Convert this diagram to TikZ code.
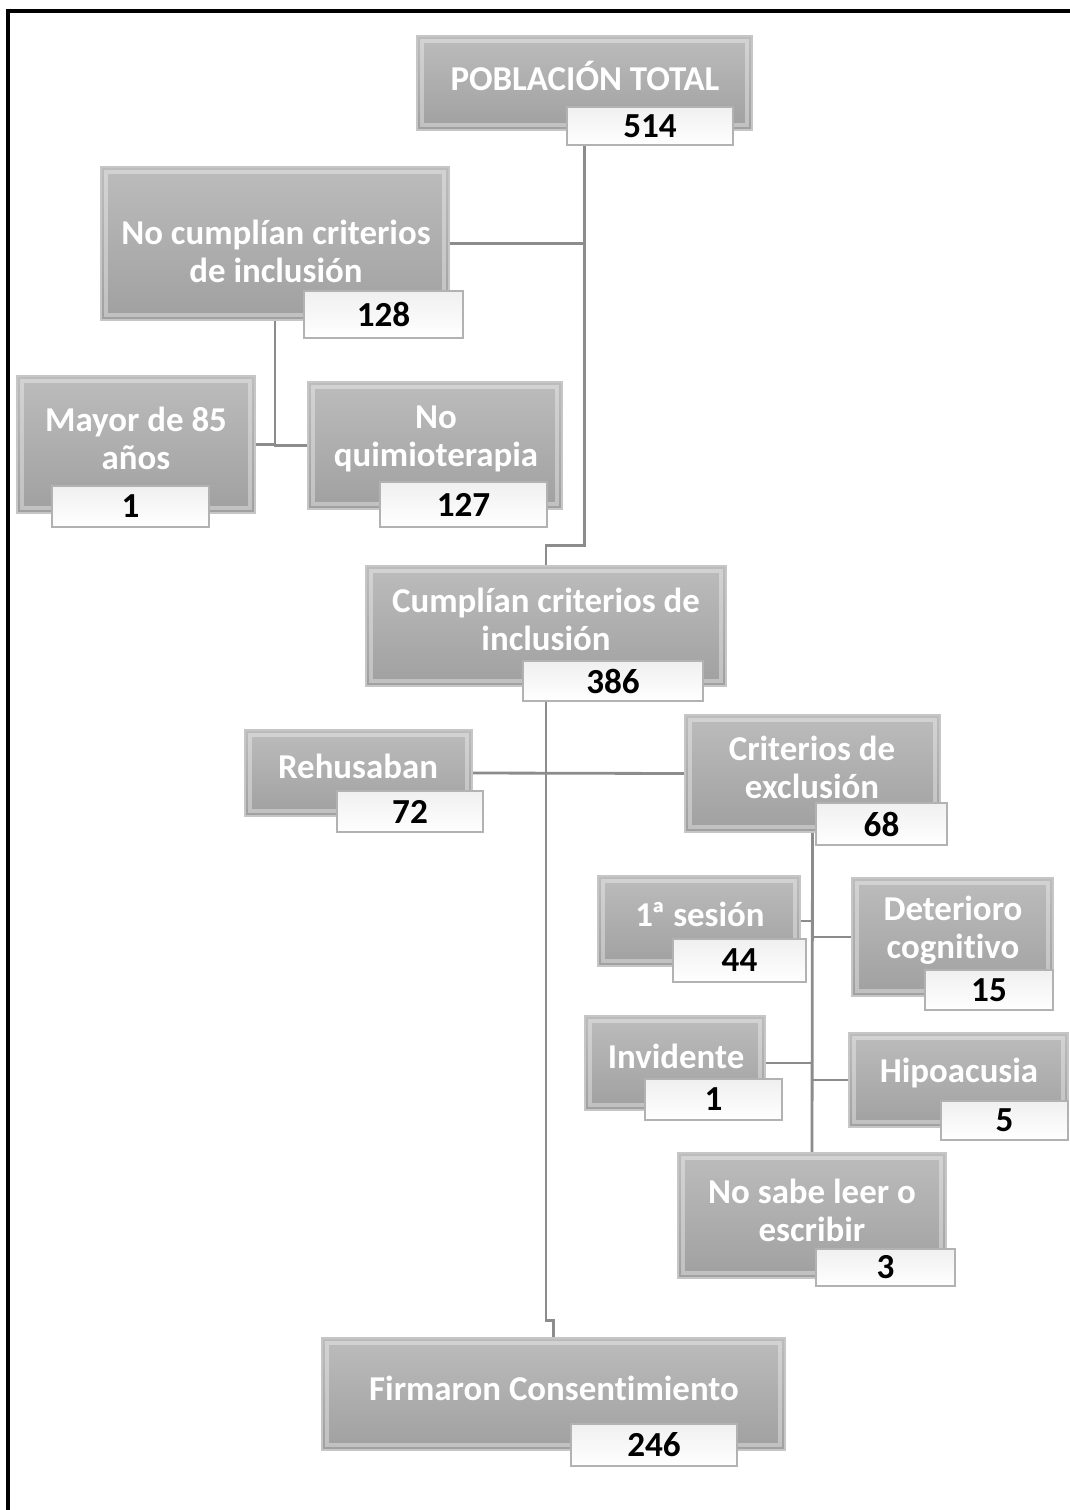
\documentclass[tikz,border=0pt]{standalone}
\usepackage{fontspec}
\setmainfont{Carlito}[Ligatures=NoCommon]
\usetikzlibrary{fit,backgrounds}
\definecolor{cajaclara}{RGB}{188,188,188}
\definecolor{cajaoscura}{RGB}{160,160,160}
\definecolor{gris}{RGB}{140,140,140}
\def\u{0.025cm}
\tikzset{
  caja/.style={inner sep=0pt, top color=cajaclara, bottom color=cajaoscura, draw=gray!45, line width=0.8pt,
    path picture={\draw[white, opacity=0.35, line width=2.5pt]
      ([shift={(3.5pt,-3.5pt)}]path picture bounding box.north west) rectangle
      ([shift={(-3.5pt,3.5pt)}]path picture bounding box.south east);}},
  numero/.style={inner sep=0pt, top color=gray!12, bottom color=white, draw=gray!60, line width=1pt,
    font=\fontsize{25}{27}\selectfont\bfseries, text=black},
  texto/.style={align=center, text=white, inner sep=0pt, font=\fontsize{24.8}{27}\selectfont\bfseries},
  conector/.style={draw=gris, line width=2pt}
}

\begin{document}
\begin{tikzpicture}[x=\u, y=-\u]
    \useasboundingbox (0,0) rectangle (1070,1510);
    \draw[line width=2.2pt] (8,1512) -- (8,11) -- (1072,11);
    % cajas grises
    \node[caja, fit={(417,36) (752,130)}] (total) {};
    \node[caja, fit={(101,167) (449,320)}] (nocumplen) {};
    \node[caja, fit={(17,376) (255,513)}] (mayor) {};
    \node[caja, fit={(308,382) (562,509)}] (quimio) {};
    \node[caja, fit={(366,566) (726,686)}] (cumplen) {};
    \node[caja, fit={(245,730) (472,816)}] (rehusan) {};
    \node[caja, fit={(685,715) (940,832)}] (exclusion) {};
    \node[caja, fit={(598,876) (800,966)}] (sesion) {};
    \node[caja, fit={(852,878) (1053,996)}] (deterioro) {};
    \node[caja, fit={(585,1016) (765,1110)}] (invidente) {};
    \node[caja, fit={(849,1033) (1068,1127)}] (hipoacusia) {};
    \node[caja, fit={(678,1153) (946,1278)}] (nosabe) {};
    \node[caja, fit={(322,1338) (785,1450)}] (firmaron) {};
    % textos
    \node[texto] (totalT) at (585,76) {POBLACIÓN TOTAL};
    \node[texto] (nocumplenT) at (276,251) {No cumplían criterios\\de inclusión};
    \node[texto] (mayorT) at (136,438) {Mayor de 85\\años};
    \node[texto] (quimioT) at (436,439) {No\\quimioterapia};
    \node[texto] (cumplenT) at (546,619) {Cumplían criterios de\\inclusión};
    \node[texto] (rehusanT) at (358,766) {Rehusaban};
    \node[texto] (exclusionT) at (812,767) {Criterios de\\exclusión};
    \node[texto] (sesionT) at (700,914) {1\kern-1.5ptª sesión};
    \node[texto] (deterioroT) at (953,930) {Deterioro\\cognitivo};
    \node[texto] (invidenteT) at (676,1056) {Invidente};
    \node[texto] (hipoacusiaT) at (959,1073) {Hipoacusia};
    \node[texto] (nosabeT) at (812,1210) {No sabe leer o\\escribir};
    \node[texto] (firmaronT) at (554,1388) {Firmaron Consentimiento};
    % numeros
    \node[numero, minimum width=166*\u, minimum height=38*\u] (totalN) at (650,126) {514};
    \node[numero, minimum width=159*\u, minimum height=47*\u] (nocumplenN) at (383.5,314.5) {128};
    \node[numero, minimum width=157*\u, minimum height=41*\u] (mayorN) at (130.5,506.5) {1};
    \node[numero, minimum width=167*\u, minimum height=45*\u] (quimioN) at (463.5,504.5) {127};
    \node[numero, minimum width=180*\u, minimum height=40*\u] (cumplenN) at (613,681) {386};
    \node[numero, minimum width=146*\u, minimum height=41*\u] (rehusanN) at (410,811.5) {72};
    \node[numero, minimum width=131*\u, minimum height=42*\u] (exclusionN) at (881.5,824) {68};
    \node[numero, minimum width=133*\u, minimum height=43*\u] (sesionN) at (739.5,960.5) {44};
    \node[numero, minimum width=128*\u, minimum height=40*\u] (deterioroN) at (989,990) {15};
    \node[numero, minimum width=137*\u, minimum height=41*\u] (invidenteN) at (713.5,1099.5) {1};
    \node[numero, minimum width=127*\u, minimum height=39*\u] (hipoacusiaN) at (1004.5,1120.5) {5};
    \node[numero, minimum width=139*\u, minimum height=37*\u] (nosabeN) at (885.5,1267.5) {3};
    \node[numero, minimum width=166*\u, minimum height=42*\u] (firmaronN) at (654,1445) {246};
    % conectores
    \begin{scope}[on background layer]
      \draw[conector] (total.south) -- ++(0,415) -| (cumplen.north);
      \draw[conector] (nocumplen.east) -- (nocumplen.east -| total.south);
      \draw[conector] (nocumplen.south) |- (mayor.east);
      \draw[conector] (nocumplen.south) |- (quimio.west);
      \draw[conector] (cumplen.south) -- ++(0,634) -| (firmaron.north);
      \draw[conector] (rehusan.east) -- (exclusion.west);
      \draw[conector] (exclusion.south) -- (nosabe.north);
      \draw[conector] (sesion.east) -- (sesion.east -| exclusion.south);
      \draw[conector] (deterioro.west) -- (deterioro.west -| exclusion.south);
      \draw[conector] (invidente.east) -- (invidente.east -| exclusion.south);
      \draw[conector] (hipoacusia.west) -- (hipoacusia.west -| exclusion.south);
    \end{scope}
\end{tikzpicture}
\end{document}
